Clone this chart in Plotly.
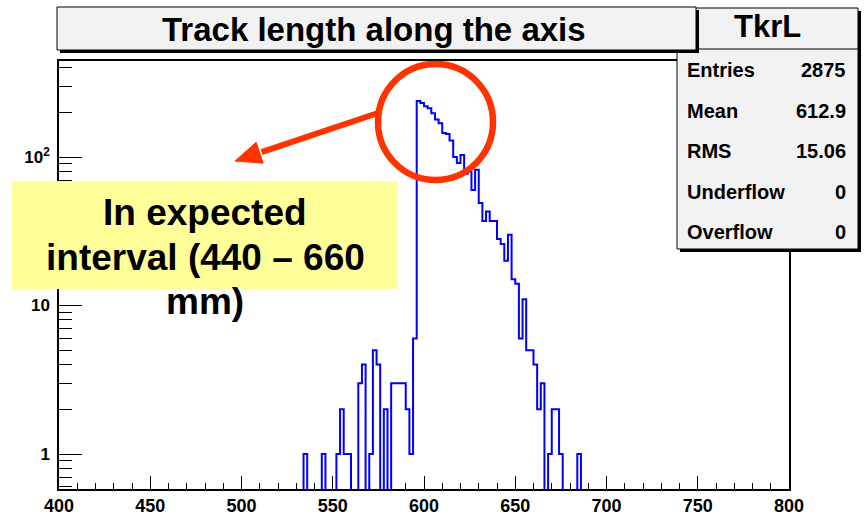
import plotly.graph_objects as go

# Histogram binning: 200 bins of 2 mm between 400 and 800 mm
x_min, x_max, bin_width = 400, 800, 2

# Low edges of the non-empty bins and their entries
bin_low_edges = [534, 544, 552, 554, 556, 558, 564, 566, 570, 572, 574, 578,
                 582, 584, 586, 588, 590, 592, 594, 596, 598, 600, 602, 604,
                 606, 608, 610, 612, 614, 616, 618, 620, 622, 624, 626, 628,
                 630, 632, 634, 636, 638, 640, 642, 644, 646, 648, 650, 652,
                 654, 656, 658, 660, 662, 664, 668, 670, 672, 674, 684]
bin_counts = [1, 1, 1, 2, 1, 1, 3, 4, 1, 5, 4, 2,
              3, 3, 3, 3, 2, 1, 6, 238, 231, 220, 213, 197,
              179, 169, 145, 143, 129, 100, 91, 103, 77, 80, 60, 82,
              49, 37, 43, 37, 37, 28, 26, 20, 30, 15, 14, 6,
              11, 5, 5, 4, 2, 3, 1, 2, 2, 1, 1]

# Statistics box
hist_name = "TkrL"
stat_names = ["Entries", "Mean", "RMS", "Underflow", "Overflow"]
stat_values = ["2875", "612.9", "15.06", "0", "0"]

title_text = "Track length along the axis"
note_lines = ["In expected", "interval (440 \u2013 660", "mm)"]

# Axis ticks
x_ticks = list(range(400, 801, 50))
y_ticks = [1, 10, 100]
y_tick_text = ["1", "10", "10<sup>2</sup>"]
y_minor = [0.6, 0.7, 0.8, 0.9] + [2, 3, 4, 5, 6, 7, 8, 9] + \
          [20, 30, 40, 50, 60, 70, 80, 90] + [200, 300, 400]

# ---- full histogram contents -------------------------------------------
n_bins = (x_max - x_min) // bin_width
contents = [0] * n_bins
for edge, c in zip(bin_low_edges, bin_counts):
    contents[(edge - x_min) // bin_width] = c

edges = [x_min + i * bin_width for i in range(n_bins + 1)]
floor = 1e-3  # empty bins sit below the visible log range
step_y = [c if c > 0 else floor for c in contents]
step_x = edges
step_y = step_y + [step_y[-1]]

# ---- canvas geometry ---------------------------------------------------
W, H = 864, 521
L, R, T, B = 59, 75, 61, 32
PW, PH = W - L - R, H - T - B


def px(x):
    return (x - L) / PW


def py(y):
    return (H - B - y) / PH


FONT = "Liberation Sans, Arial, Helvetica, sans-serif"

fig = go.Figure()
fig.add_trace(go.Scatter(
    x=step_x, y=step_y, mode="lines", line_shape="hv",
    line=dict(color="#0000ff", width=2), hoverinfo="skip", showlegend=False,
))

shapes = []
# statistics box (shadow, body, header separator)
shapes.append(dict(type="rect", xref="paper", yref="paper",
                   x0=px(680), x1=px(861), y0=py(252), y1=py(11),
                   fillcolor="#000000", line=dict(width=0), layer="above"))
shapes.append(dict(type="rect", xref="paper", yref="paper",
                   x0=px(677), x1=px(858), y0=py(249), y1=py(8),
                   fillcolor="#f2f2f2", line=dict(color="#000000", width=1),
                   layer="above"))
shapes.append(dict(type="line", xref="paper", yref="paper",
                   x0=px(677), x1=px(858), y0=py(49), y1=py(49),
                   line=dict(color="#000000", width=1), layer="above"))
# title box
shapes.append(dict(type="rect", xref="paper", yref="paper",
                   x0=px(60), x1=px(699), y0=py(53), y1=py(10),
                   fillcolor="#000000", line=dict(width=0), layer="above"))
shapes.append(dict(type="rect", xref="paper", yref="paper",
                   x0=px(57), x1=px(696), y0=py(50), y1=py(7),
                   fillcolor="#f2f2f2", line=dict(color="#000000", width=1),
                   layer="above"))
# yellow note box
shapes.append(dict(type="rect", xref="paper", yref="paper",
                   x0=px(12), x1=px(398), y0=py(289), y1=py(181),
                   fillcolor="#ffff99", line=dict(width=0), layer="above"))
# red circle around the peak
RED = "#ff3300"
shapes.append(dict(type="circle", xref="paper", yref="paper",
                   x0=px(378), x1=px(493), y0=py(180), y1=py(64),
                   line=dict(color=RED, width=6.5), layer="above"))
# red arrow: shaft and head
tip = (235, 161)
tail = (378, 113)
dx, dy = tail[0] - tip[0], tail[1] - tip[1]
ln = (dx * dx + dy * dy) ** 0.5
ux, uy = dx / ln, dy / ln
head_len, head_half = 26, 11
bx, by = tip[0] + head_len * ux, tip[1] + head_len * uy
c1 = (bx - head_half * uy, by + head_half * ux)
c2 = (bx + head_half * uy, by - head_half * ux)
shapes.append(dict(type="line", xref="paper", yref="paper",
                   x0=px(bx + 2 * ux), y0=py(by + 2 * uy),
                   x1=px(tail[0]), y1=py(tail[1]),
                   line=dict(color=RED, width=6), layer="above"))
shapes.append(dict(type="path", xref="paper", yref="paper",
                   path=(f"M {px(tip[0])},{py(tip[1])} "
                         f"L {px(c1[0])},{py(c1[1])} "
                         f"L {px(c2[0])},{py(c2[1])} Z"),
                   fillcolor=RED, line=dict(color=RED, width=1),
                   layer="above"))

annotations = []
annotations.append(dict(xref="paper", yref="paper", x=px(374), y=py(30),
                        text=title_text, showarrow=False,
                        xanchor="center", yanchor="middle",
                        font=dict(family=FONT, size=33, color="black",
                                  weight="bold")))
annotations.append(dict(xref="paper", yref="paper", x=px(767), y=py(27),
                        text=hist_name, showarrow=False,
                        xanchor="center", yanchor="middle",
                        font=dict(family=FONT, size=31, color="black",
                                  weight="bold")))
row_y = [70, 110.5, 151, 191.5, 232]
for name, val, yy in zip(stat_names, stat_values, row_y):
    annotations.append(dict(xref="paper", yref="paper", x=px(685), y=py(yy),
                            text=name, showarrow=False,
                            xanchor="left", yanchor="middle",
                            font=dict(family=FONT, size=20, color="black",
                                      weight="bold")))
    annotations.append(dict(xref="paper", yref="paper", x=px(848), y=py(yy),
                            text=val, showarrow=False,
                            xanchor="right", yanchor="middle",
                            font=dict(family=FONT, size=20, color="black",
                                      weight="bold")))
for line, yy in zip(note_lines, [212, 257, 301]):
    annotations.append(dict(xref="paper", yref="paper", x=px(205), y=py(yy),
                            text=line, showarrow=False,
                            xanchor="center", yanchor="middle",
                            font=dict(family=FONT, size=37, color="black",
                                      weight="bold")))

fig.update_layout(
    width=W, height=H,
    margin=dict(l=L, r=R, t=T, b=B, pad=0),
    paper_bgcolor="white", plot_bgcolor="white",
    template="none",
    showlegend=False,
    shapes=shapes,
    annotations=annotations,
    xaxis=dict(
        range=[x_min, x_max], tickmode="array", tickvals=x_ticks,
        ticks="inside", ticklen=13, tickwidth=1.3, tickcolor="black",
        minor=dict(ticks="inside", dtick=10, tick0=400, ticklen=6,
                   tickwidth=1.3, tickcolor="black", showgrid=False),
        showline=True, linecolor="black", linewidth=1.5, mirror=True,
        showgrid=False, zeroline=False, automargin=False,
        tickfont=dict(family=FONT, size=18, color="black", weight="bold"),
    ),
    yaxis=dict(
        type="log", range=[-0.2357, 2.6465],
        tickmode="array", tickvals=y_ticks, ticktext=y_tick_text,
        ticks="inside", ticklen=23, tickwidth=1.3, tickcolor="black",
        minor=dict(ticks="inside", tickmode="array", tickvals=y_minor,
                   ticklen=13, tickwidth=1.3, tickcolor="black",
                   showgrid=False),
        showline=True, linecolor="black", linewidth=1.5, mirror=True,
        showgrid=False, zeroline=False, automargin=False,
        ticklabelstandoff=4,
        tickfont=dict(family=FONT, size=17, color="black", weight="bold"),
    ),
)

fig.write_html("out.html")
